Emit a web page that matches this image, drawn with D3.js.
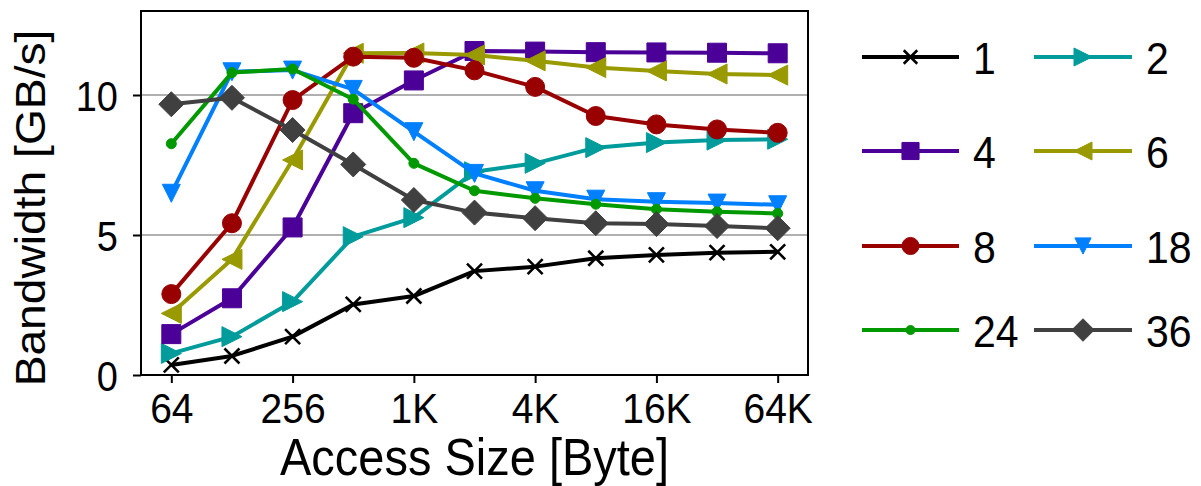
<!DOCTYPE html>
<html>
<head>
<meta charset="utf-8">
<script src="https://cdn.jsdelivr.net/npm/d3@7"></script>
<style>
  html, body { margin: 0; padding: 0; background: #fff; }
  svg { display: block; font-family: "Liberation Sans", Arial, Helvetica, sans-serif; }
</style>
</head>
<body>
<svg id="chart" width="1201" height="486"></svg>
<script>
// Access sizes in bytes (log2 x axis)
const accessSizes = [64, 128, 256, 512, 1024, 2048, 4096, 8192, 16384, 32768, 65536];

// Bandwidth (GB/s) per thread count
const threads1  = [0.36, 0.68, 1.37, 2.52, 2.82, 3.71, 3.87, 4.17, 4.29, 4.37, 4.40];
const threads2  = [0.77, 1.37, 2.62, 4.94, 5.62, 7.26, 7.56, 8.12, 8.30, 8.39, 8.42];
const threads4  = [1.46, 2.74, 5.27, 9.35, 10.52, 11.57, 11.55, 11.53, 11.52, 11.51, 11.49];
const threads6  = [2.20, 4.13, 7.68, 11.49, 11.50, 11.43, 11.22, 10.98, 10.86, 10.75, 10.71];
const threads8  = [2.89, 5.42, 9.82, 11.37, 11.33, 10.88, 10.29, 9.25, 8.95, 8.77, 8.65];
const threads18 = [6.49, 10.83, 10.89, 10.20, 8.69, 7.20, 6.58, 6.28, 6.19, 6.14, 6.08];
const threads24 = [8.26, 10.80, 10.93, 9.85, 7.56, 6.58, 6.31, 6.10, 5.92, 5.83, 5.77];
const threads36 = [9.67, 9.90, 8.75, 7.52, 6.25, 5.80, 5.60, 5.42, 5.39, 5.32, 5.24];

const seriesNames = ["1", "2", "4", "6", "8", "18", "24", "36"];
const seriesValues = [threads1, threads2, threads4, threads6, threads8, threads18, threads24, threads36];

// Tick values and labels
const xTickValues = [64, 256, 1024, 4096, 16384, 65536];
const xTickLabels = ["64", "256", "1K", "4K", "16K", "64K"];
const yTickValues = [0, 5, 10];

// Styling per series
const colors  = ["#000000", "#009b9b", "#4b0098", "#999900", "#990000", "#0080ff", "#009900", "#404040"];
const markers = ["x", "triRight", "square", "triLeft", "circle", "triDown", "dot", "diamond"];

const svg = d3.select("#chart");
const plot = { left: 141, right: 808, top: 11, bottom: 375 };
const TEXT_STRETCH = 1.1;   // glyphs drawn slightly taller than wide

const x = d3.scaleLog().base(2)
  .domain([64 / Math.SQRT2, 65536 * Math.SQRT2])
  .range([plot.left, plot.right]);
const y = d3.scaleLinear().domain([0, 13]).range([plot.bottom, plot.top]);

// Marker path builder (centred on 0,0, s = half-size)
function markerPath(type, s) {
  const p = d3.path();
  switch (type) {
    case "square":
      p.rect(-s, -s, 2 * s, 2 * s); break;
    case "circle":
    case "dot":
      p.arc(0, 0, s, 0, 2 * Math.PI); p.closePath(); break;
    case "diamond":
      p.moveTo(0, -s); p.lineTo(s, 0); p.lineTo(0, s); p.lineTo(-s, 0); p.closePath(); break;
    case "triRight":
      p.moveTo(s, 0); p.lineTo(-s, -s); p.lineTo(-s, s); p.closePath(); break;
    case "triLeft":
      p.moveTo(-s, 0); p.lineTo(s, -s); p.lineTo(s, s); p.closePath(); break;
    case "triDown":
      p.moveTo(0, s); p.lineTo(-s, -s); p.lineTo(s, -s); p.closePath(); break;
    case "x":
      p.moveTo(-s, -s); p.lineTo(s, s); p.moveTo(-s, s); p.lineTo(s, -s); break;
  }
  return p.toString();
}
const markerSize = { x: 7.5, triRight: 10, triLeft: 10, square: 9.5, circle: 9.5, triDown: 9, dot: 5, diamond: 12.5 };

function drawMarker(g, type, color, s) {
  const path = g.append("path").attr("d", markerPath(type, s));
  if (type === "x") {
    path.attr("fill", "none").attr("stroke", color).attr("stroke-width", 2.6);
  } else {
    path.attr("fill", color).attr("stroke", color).attr("stroke-width", 1).attr("stroke-linejoin", "miter");
  }
}

// Gridlines
svg.append("g").selectAll("line")
  .data(yTickValues.filter(v => v > 0))
  .join("line")
  .attr("x1", plot.left).attr("x2", plot.right)
  .attr("y1", d => y(d)).attr("y2", d => y(d))
  .attr("stroke", "#b0b0b0").attr("stroke-width", 2);

// Series lines and markers
const line = d3.line().x((d, i) => x(accessSizes[i])).y(d => y(d));
seriesValues.forEach((vals, si) => {
  const g = svg.append("g");
  g.append("path")
    .attr("d", line(vals))
    .attr("fill", "none")
    .attr("stroke", colors[si])
    .attr("stroke-width", 4)
    .attr("stroke-linejoin", "round");
  vals.forEach((v, i) => {
    const mg = g.append("g").attr("transform", `translate(${x(accessSizes[i])},${y(v)})`);
    drawMarker(mg, markers[si], colors[si], markerSize[markers[si]]);
  });
});

// Frame
svg.append("rect")
  .attr("x", plot.left).attr("y", plot.top)
  .attr("width", plot.right - plot.left).attr("height", plot.bottom - plot.top)
  .attr("fill", "none").attr("stroke", "#000").attr("stroke-width", 2);

// Axes
const xAxis = d3.axisBottom(x).tickValues(xTickValues)
  .tickFormat((d, i) => xTickLabels[i]).tickSize(8);
const gx = svg.append("g").attr("transform", `translate(0,${plot.bottom})`).call(xAxis);
gx.select(".domain").remove();
gx.selectAll(".tick line").attr("stroke", "#000").attr("stroke-width", 2);
gx.selectAll(".tick text")
  .attr("font-size", 39).attr("fill", "#000")
  .attr("font-family", "'Liberation Sans', Arial, sans-serif")
  .attr("y", 0).attr("dy", null)
  .attr("transform", `translate(0,48) scale(1,${TEXT_STRETCH})`);

const yAxis = d3.axisLeft(y).tickValues(yTickValues).tickSize(8);
const gy = svg.append("g").attr("transform", `translate(${plot.left},0)`).call(yAxis);
gy.select(".domain").remove();
gy.selectAll(".tick line").attr("stroke", "#000").attr("stroke-width", 2);
gy.selectAll(".tick text")
  .attr("font-size", 38).attr("fill", "#000")
  .attr("font-family", "'Liberation Sans', Arial, sans-serif")
  .attr("x", 0).attr("dy", null)
  .attr("transform", `translate(-23,15) scale(1,${TEXT_STRETCH})`);

// Axis titles
svg.append("text")
  .attr("transform", `translate(${(plot.left + plot.right) / 2},475) scale(1,${TEXT_STRETCH})`)
  .attr("text-anchor", "middle").attr("font-size", 47).attr("fill", "#000")
  .text("Access Size [Byte]");
svg.append("text")
  .attr("transform", `translate(45,208) scale(1,${TEXT_STRETCH}) rotate(-90)`)
  .attr("text-anchor", "middle").attr("font-size", 42).attr("fill", "#000")
  .text("Bandwidth [GB/s]");

// Legend: 4 rows x 2 columns
const legendCol = [{ x0: 862, len: 97 }, { x0: 1034, len: 98 }];
const legendRowY = [57, 151, 246, 330];
seriesNames.forEach((name, si) => {
  const col = si % 2, row = Math.floor(si / 2);
  const cx = legendCol[col].x0, len = legendCol[col].len, cy = legendRowY[row];
  const g = svg.append("g").attr("transform", `translate(${cx},${cy})`);
  g.append("line").attr("x1", 0).attr("x2", len).attr("y1", 0).attr("y2", 0)
    .attr("stroke", colors[si]).attr("stroke-width", 4);
  const mg = g.append("g").attr("transform", `translate(${len / 2},0)`);
  drawMarker(mg, markers[si], colors[si], markerSize[markers[si]] * 0.9);
  g.append("text")
    .attr("transform", `translate(${len + 14},17) scale(1,${TEXT_STRETCH})`)
    .attr("font-size", 41).attr("fill", "#000").text(name);
});
</script>
</body>
</html>
